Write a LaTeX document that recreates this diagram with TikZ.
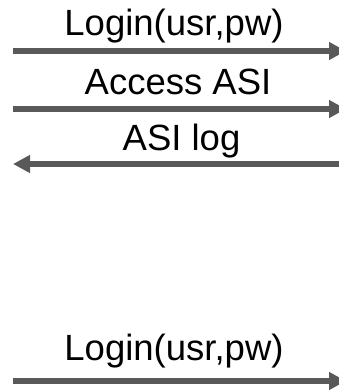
\documentclass[tikz,border=0pt]{standalone}
\usepackage{fontspec}
\setmainfont{Liberation Sans}
\usetikzlibrary{arrows.meta}
\definecolor{msggray}{RGB}{89,89,89}

\begin{document}
\begin{tikzpicture}[x=1pt,y=-1pt,
  msg/.style={draw=msggray,line width=5.5pt,-{Triangle[length=17pt,width=17pt]}},
  lbl/.style={anchor=base,inner sep=0pt,font=\fontsize{36.5}{40}\selectfont}]
  \useasboundingbox (0,0) rectangle (339,392);

  \node[lbl] (login1) at (174,35) {Login(usr,pw)};
  \coordinate (l1a) at (13,51);  \coordinate (l1b) at (346,51);
  \draw[msg] (l1a) -- (l1b);

  \node[lbl] (access) at (178,94) {Access ASI};
  \coordinate (aca) at (13,109);  \coordinate (acb) at (346,109);
  \draw[msg] (aca) -- (acb);

  \node[lbl] (asilog) at (181.5,150) {ASI log};
  \coordinate (loga) at (350,164);  \coordinate (logb) at (13,164);
  \draw[msg] (loga) -- (logb);

  % second login
  \node[lbl] (login2) at (174,360) {Login(usr,pw)};
  \coordinate (l2a) at (13,381);  \coordinate (l2b) at (346,381);
  \draw[msg] (l2a) -- (l2b);

\end{tikzpicture}
\end{document}
